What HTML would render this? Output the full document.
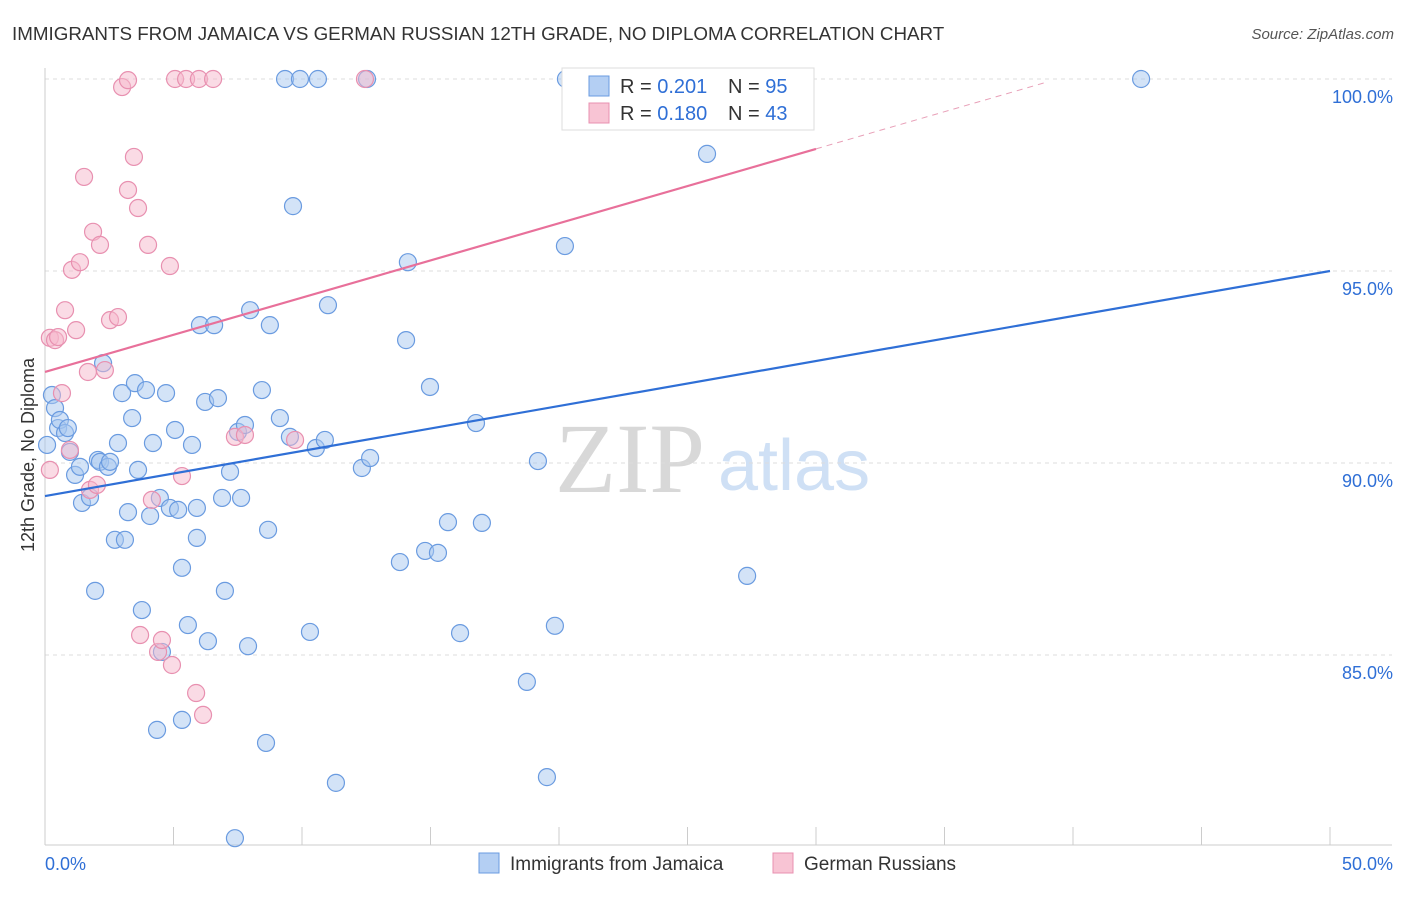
<!DOCTYPE html>
<html><head><meta charset="utf-8"><style>
body{margin:0;background:#fff;font-family:"Liberation Sans",sans-serif}
#c{position:relative;width:1406px;height:892px}
</style></head><body>
<div id="c">
<svg id="s" width="1406" height="892" xmlns="http://www.w3.org/2000/svg">
<text x="12" y="40" font-size="18.8" fill="#333">IMMIGRANTS FROM JAMAICA VS GERMAN RUSSIAN 12TH GRADE, NO DIPLOMA CORRELATION CHART</text>
<text x="1394" y="39" font-size="15" fill="#555" font-style="italic" text-anchor="end">Source: ZipAtlas.com</text>
<text x="34" y="455" font-size="18" fill="#333" text-anchor="middle" transform="rotate(-90 34 455)">12th Grade, No Diploma</text>
<text x="555" y="492" font-size="100" fill="#d8d8d8" font-family="Liberation Serif">ZIP</text>
<text x="718" y="490" font-size="72" fill="#cfe0f5">atlas</text>
<g id="grid"></g><g id="pts"></g><g id="lines"></g>
<g>
<rect x="562" y="68" width="252" height="62" fill="#fff" stroke="#ddd"/>
<rect x="589" y="76" width="20" height="20" fill="#b4cff3" stroke="#6a9be0"/>
<text x="620" y="93" font-size="20" fill="#333">R = <tspan fill="#2f6fd6">0.201</tspan></text>
<text x="728" y="93" font-size="20" fill="#333">N = <tspan fill="#2f6fd6">95</tspan></text>
<rect x="589" y="103" width="20" height="20" fill="#f8c4d4" stroke="#e890b0"/>
<text x="620" y="120" font-size="20" fill="#333">R = <tspan fill="#2f6fd6">0.180</tspan></text>
<text x="728" y="120" font-size="20" fill="#333">N = <tspan fill="#2f6fd6">43</tspan></text>
</g>
<g>
<rect x="479" y="853" width="20" height="20" fill="#b4cff3" stroke="#6a9be0"/>
<text x="510" y="870" font-size="19" fill="#333">Immigrants from Jamaica</text>
<rect x="773" y="853" width="20" height="20" fill="#f8c4d4" stroke="#e890b0"/>
<text x="804" y="870" font-size="19" fill="#333">German Russians</text>
</g>
</svg></div>
<script>
const blueX=[.27,.39,.51,.58,.78,.89,.97,1.17,1.36,1.44,1.75,1.95,2.06,2.26,2.14,2.45,2.53,2.72,2.84,3.0,3.11,3.23,3.39,3.5,3.62,3.77,3.93,4.09,4.2,4.36,4.47,4.55,4.71,4.86,5.06,5.18,5.33,5.33,5.56,5.72,5.91,5.91,6.03,6.23,6.34,6.58,6.73,6.89,7.0,7.2,7.39,7.51,7.63,7.78,7.9,7.98,8.44,8.6,8.68,8.75,9.14,9.34,9.53,9.65,9.92,10.31,10.54,10.62,10.89,11.01,11.32,12.33,12.53,12.65,13.81,14.05,14.12,14.79,14.98,15.29,15.68,16.15,16.77,17.0,18.75,19.18,19.53,19.84,20.23,20.27,25.76,27.32,42.65,.08];
const blueY=[91.77,91.43,90.91,91.12,90.78,90.91,90.29,89.69,89.9,88.96,89.11,86.67,90.08,92.6,90.03,89.9,90.03,88.0,90.52,91.82,88.0,88.72,91.17,92.08,89.82,86.17,91.9,88.62,90.52,83.05,89.09,85.08,91.82,88.83,90.86,88.78,87.27,83.31,85.78,90.47,88.83,88.05,93.59,91.59,85.36,93.59,91.69,89.09,86.67,89.77,80.23,90.81,89.09,90.99,85.23,93.98,91.9,82.71,88.26,93.59,91.17,100,90.68,96.69,100,85.6,90.39,100,90.6,94.11,81.67,89.87,100,90.13,87.42,93.2,95.23,87.71,91.98,87.66,88.46,85.57,91.04,88.44,84.3,90.05,81.82,85.76,95.65,100,98.05,87.06,100,90.47];
const pinkX=[.19,.19,.39,.51,.66,.78,.97,1.05,1.21,1.36,1.52,1.67,1.75,1.87,2.02,2.14,2.33,2.53,2.84,3.0,3.23,3.23,3.46,3.62,3.7,4.01,4.16,4.4,4.55,4.86,4.94,5.06,5.33,5.49,5.88,5.99,6.15,6.54,7.39,7.78,9.73,12.45,27.82];
const pinkY=[93.26,89.82,93.2,93.28,91.82,93.98,90.34,95.03,93.46,95.23,97.45,92.37,89.3,96.02,89.43,95.68,92.42,93.72,93.8,99.79,97.11,99.97,97.97,96.64,85.52,95.68,89.04,85.08,85.39,95.13,84.74,100,89.66,100,84.01,100,83.44,100,90.68,90.73,90.6,100,100];
const yTicks=[100,95,90,85];
const yTickLabels=["100.0%","95.0%","90.0%","85.0%"];
const xTickLabels=["0.0%","50.0%"];
const blueTrend=[89.14,95.0];
const pinkTrend=[92.37,98.18];
const NS="http://www.w3.org/2000/svg";
const X=v=>45+v*25.7, Y=v=>79+(100-v)*38.4;
function mk(t,a,p){const e=document.createElementNS(NS,t);for(const k in a)e.setAttribute(k,a[k]);p.appendChild(e);return e;}
const g=document.getElementById('grid');
yTicks.forEach((t,i)=>{
 const l=mk('line',{x1:45,x2:1392,y1:Y(t),y2:Y(t),stroke:'#ddd','stroke-dasharray':'4,4'},g);
 
 
 const tx=mk('text',{x:1393,y:Y(t)+24,'font-size':18,fill:'#2f6fd6','text-anchor':'end'},g);
 tx.textContent=yTickLabels[i];
 
 
});
let ax=mk('line',{x1:45,x2:45,y1:68,y2:845,stroke:'#ccc'},g);


let bx=mk('line',{x1:45,x2:1392,y1:845,y2:845,stroke:'#ccc'},g);


for(let i=0;i<=10;i++){const t=mk('line',{x1:X(i*5),x2:X(i*5),y1:827,y2:845,stroke:'#ccc'},g);
 
 }
[[0,'start',45],[1,'end',1393]].forEach(([i,a,x])=>{const t=mk('text',{x:x,y:870,'font-size':18,fill:'#2f6fd6','text-anchor':a},g);t.textContent=xTickLabels[i];
 
 });
const p=document.getElementById('pts');
function pts(xs,ys,f,s,n){xs.forEach((x,i)=>{const c=mk('circle',{cx:X(x),cy:Y(ys[i]),r:8.5,fill:f,'fill-opacity':0.5,stroke:s,'stroke-width':1.2},p);
 
 });}
pts(blueX,blueY,'#a8c8f0','#6a9be0','jamaica-point');
pts(pinkX,pinkY,'#f6b8cc','#e890b0','german-russian-point');
const L=document.getElementById('lines');
let bl=mk('line',{x1:X(0),y1:Y(blueTrend[0]),x2:X(50),y2:Y(blueTrend[1]),stroke:'#2f6fd6','stroke-width':2.2},L);


let pl=mk('line',{x1:X(0),y1:Y(pinkTrend[0]),x2:X(30),y2:Y(pinkTrend[1]),stroke:'#e8709a','stroke-width':2.2},L);


const sl=(pinkTrend[1]-pinkTrend[0])/30;
let pd=mk('line',{x1:X(30),y1:Y(pinkTrend[1]),x2:X(39),y2:Y(pinkTrend[0]+sl*39),stroke:'#e8a0b8','stroke-width':1,'stroke-dasharray':'6,5'},L);


</script>
</body></html>
